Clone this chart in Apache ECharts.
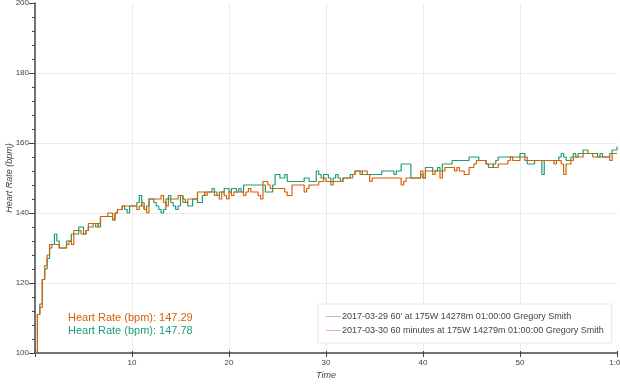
<!DOCTYPE html>
<html>
<head>
<meta charset="utf-8">
<script src="https://cdn.jsdelivr.net/npm/echarts@6/dist/echarts.min.js"></script>
<style>
html,body{margin:0;padding:0;background:#fff;}
#c{width:620px;height:384px;}
</style>
</head>
<body>
<div id="c"></div>
<script>
// Sample step in minutes (15 s)
const sampleStep = 0.25;

const seriesNames = [
  "2017-03-29 60' at 175W 14278m 01:00:00 Gregory Smith",
  "2017-03-30 60 minutes at 175W 14279m 01:00:00 Gregory Smith"
];

const greenHR = [
  100,111,114,121, 124,127,130,131, 134,132,130,130, 130,132,132,134,
  134,134,136,136, 134,135,136,136, 137,137,136,139, 139,139,139,139,
  138,140,141,141, 142,141,140,142,
  142,142,143,145, 142,141,142,144, 144,143,142,141, 140,141,144,145,
  143,142,141,142, 145,144,143,142, 142,144,144,143, 143,145,146,146,
  146,147,146,145, 146,146,147,147,
  146,147,147,146, 147,146,148,148, 148,148,148,148, 148,148,148,146,
  146,146,148,151, 151,150,150,151, 149,149,149,149, 149,149,149,150,
  150,149,149,149, 152,151,150,151,
  151,150,149,150, 151,150,149,150, 150,150,151,151, 152,152,152,151,
  151,151,151,151, 151,151,151,152, 152,152,152,152, 151,152,152,154,
  154,154,154,150, 150,150,150,151,
  150,153,153,153, 152,152,153,152, 154,154,154,154, 155,155,155,155,
  155,155,155,156, 156,156,156,155, 155,155,154,153, 153,154,155,156,
  156,156,156,156, 156,156,156,156,
  157,157,155,154, 154,154,155,155, 155,151,155,155, 155,155,155,155,
  156,157,156,155, 155,156,157,156, 157,157,158,158, 157,157,157,157,
  156,157,156,156, 156,157,158,158,
  159
];

const orangeHR = [
  100,111,113,121, 125,128,131,131, 131,131,130,130, 130,131,132,131,
  135,135,135,134, 134,135,137,137, 137,136,137,139, 139,139,140,140,
  138,140,141,141, 142,142,142,142,
  142,142,141,142, 143,141,140,144, 144,144,144,144, 145,143,142,144,
  144,144,144,145, 145,143,143,144, 144,144,144,146, 146,146,145,146,
  146,146,145,145, 144,146,145,144,
  146,145,146,146, 146,146,145,146, 147,146,146,146, 145,144,149,149,
  148,147,147,147, 147,147,147,146, 145,145,148,148, 148,148,148,146,
  147,148,148,148, 148,149,149,150,
  149,149,148,149, 149,149,149,150, 150,150,150,151, 152,152,151,152,
  152,151,149,150, 150,150,150,150, 150,150,150,150, 150,150,150,148,
  149,150,150,150, 150,150,150,152,
  150,152,152,152, 151,152,152,150, 152,153,153,153, 153,152,153,152,
  152,151,151,153, 153,154,155,155, 155,155,154,154, 154,153,153,154,
  154,154,154,155, 156,155,155,155,
  156,156,156,155, 155,155,155,155, 155,155,155,155, 155,155,154,155,
  155,154,151,154, 154,155,156,156, 156,156,157,157, 157,157,156,156,
  156,156,156,156, 156,155,157,157,
  157
];

const hoverLabels = ["Heart Rate (bpm): 147.29", "Heart Rate (bpm): 147.78"];
const xTickLabels = {10: "10", 20: "20", 30: "30", 40: "40", 50: "50", 60: "1:00"};
const colors = ["#1b9e77", "#d95f02"];

function pairs(arr) {
  return arr.map((v, i) => [i * sampleStep, v]);
}

const chart = echarts.init(document.getElementById('c'), null, {renderer: 'canvas'});
const fontFam = '"Liberation Sans", Helvetica, Arial, sans-serif';

chart.setOption({
  animation: false,
  backgroundColor: '#fff',
  grid: {left: 35, right: 3, top: 3, bottom: 31, containLabel: false, outerBoundsMode: 'none'},
  legend: {
    orient: 'vertical',
    left: 318,
    top: 304,
    padding: [8, 8, 8, 8],
    itemGap: 5,
    itemWidth: 15,
    itemHeight: 10,
    backgroundColor: '#fff',
    borderColor: '#e6e6e6',
    borderWidth: 1,
    borderRadius: 0,
    z: 10,
    textStyle: {fontSize: 9, color: '#444', fontFamily: fontFam, padding: [0, 0, 0, -4]},
    data: [
      {name: seriesNames[0], icon: 'path://M0,4.6 L15,4.6 L15,5.4 L0,5.4 Z', itemStyle: {color: '#79c7ad'}},
      {name: seriesNames[1], icon: 'path://M0,4.6 L15,4.6 L15,5.4 L0,5.4 Z', itemStyle: {color: '#f0a070'}}
    ]
  },
  xAxis: [{
    type: 'value',
    min: 0, max: 60, interval: 10,
    name: 'Time',
    nameLocation: 'middle',
    nameGap: 18,
    nameMoveOverlap: false,
    nameTextStyle: {fontStyle: 'italic', fontSize: 9, color: '#444', fontFamily: fontFam},
    axisLine: {show: true, onZero: false, lineStyle: {color: '#444', width: 1.5}},
    axisTick: {show: true, length: 4, lineStyle: {color: '#444', width: 1}},
    axisLabel: {
      fontSize: 8, color: '#444', fontFamily: fontFam, margin: 6,
      formatter: v => xTickLabels[v] || ''
    },
    splitLine: {show: true, showMinLine: false, showMaxLine: false, lineStyle: {color: '#ebebeb', width: 1}}
  }, {
    type: 'value',
    min: 0, max: 60, interval: 10,
    position: 'bottom',
    axisLine: {show: false},
    axisTick: {show: true, inside: true, length: 2, lineStyle: {color: '#444', width: 1}},
    axisLabel: {show: false},
    splitLine: {show: false}
  }],
  yAxis: {
    type: 'value',
    min: 100, max: 200, interval: 20,
    name: 'Heart Rate (bpm)',
    nameLocation: 'middle',
    nameGap: 21,
    nameMoveOverlap: false,
    nameTextStyle: {fontStyle: 'italic', fontSize: 9, color: '#444', fontFamily: fontFam},
    axisLine: {show: true, onZero: false, lineStyle: {color: '#444', width: 1.5}},
    axisTick: {show: true, length: 6, lineStyle: {color: '#444', width: 1}},
    minorTick: {show: true, splitNumber: 5, length: 3, lineStyle: {color: '#444', width: 1}},
    axisLabel: {fontSize: 8, color: '#444', fontFamily: fontFam, margin: 6},
    splitLine: {show: true, showMinLine: false, showMaxLine: false, lineStyle: {color: '#ebebeb', width: 1}}
  },
  series: [
    {
      name: seriesNames[0], type: 'line', step: 'end', showSymbol: false, symbol: 'none',
      data: pairs(greenHR),
      lineStyle: {color: colors[0], width: 1.2},
      itemStyle: {color: colors[0]}
    },
    {
      name: seriesNames[1], type: 'line', step: 'end', showSymbol: false, symbol: 'none',
      data: pairs(orangeHR),
      lineStyle: {color: colors[1], width: 1.2},
      itemStyle: {color: colors[1]}
    }
  ],
  graphic: [
    {type: 'text', z: 100, left: 68, top: 312, style: {text: hoverLabels[0], fill: colors[1], font: '11px ' + fontFam}},
    {type: 'text', z: 100, left: 68, top: 325, style: {text: hoverLabels[1], fill: colors[0], font: '11px ' + fontFam}}
  ]
});
</script>
</body>
</html>
